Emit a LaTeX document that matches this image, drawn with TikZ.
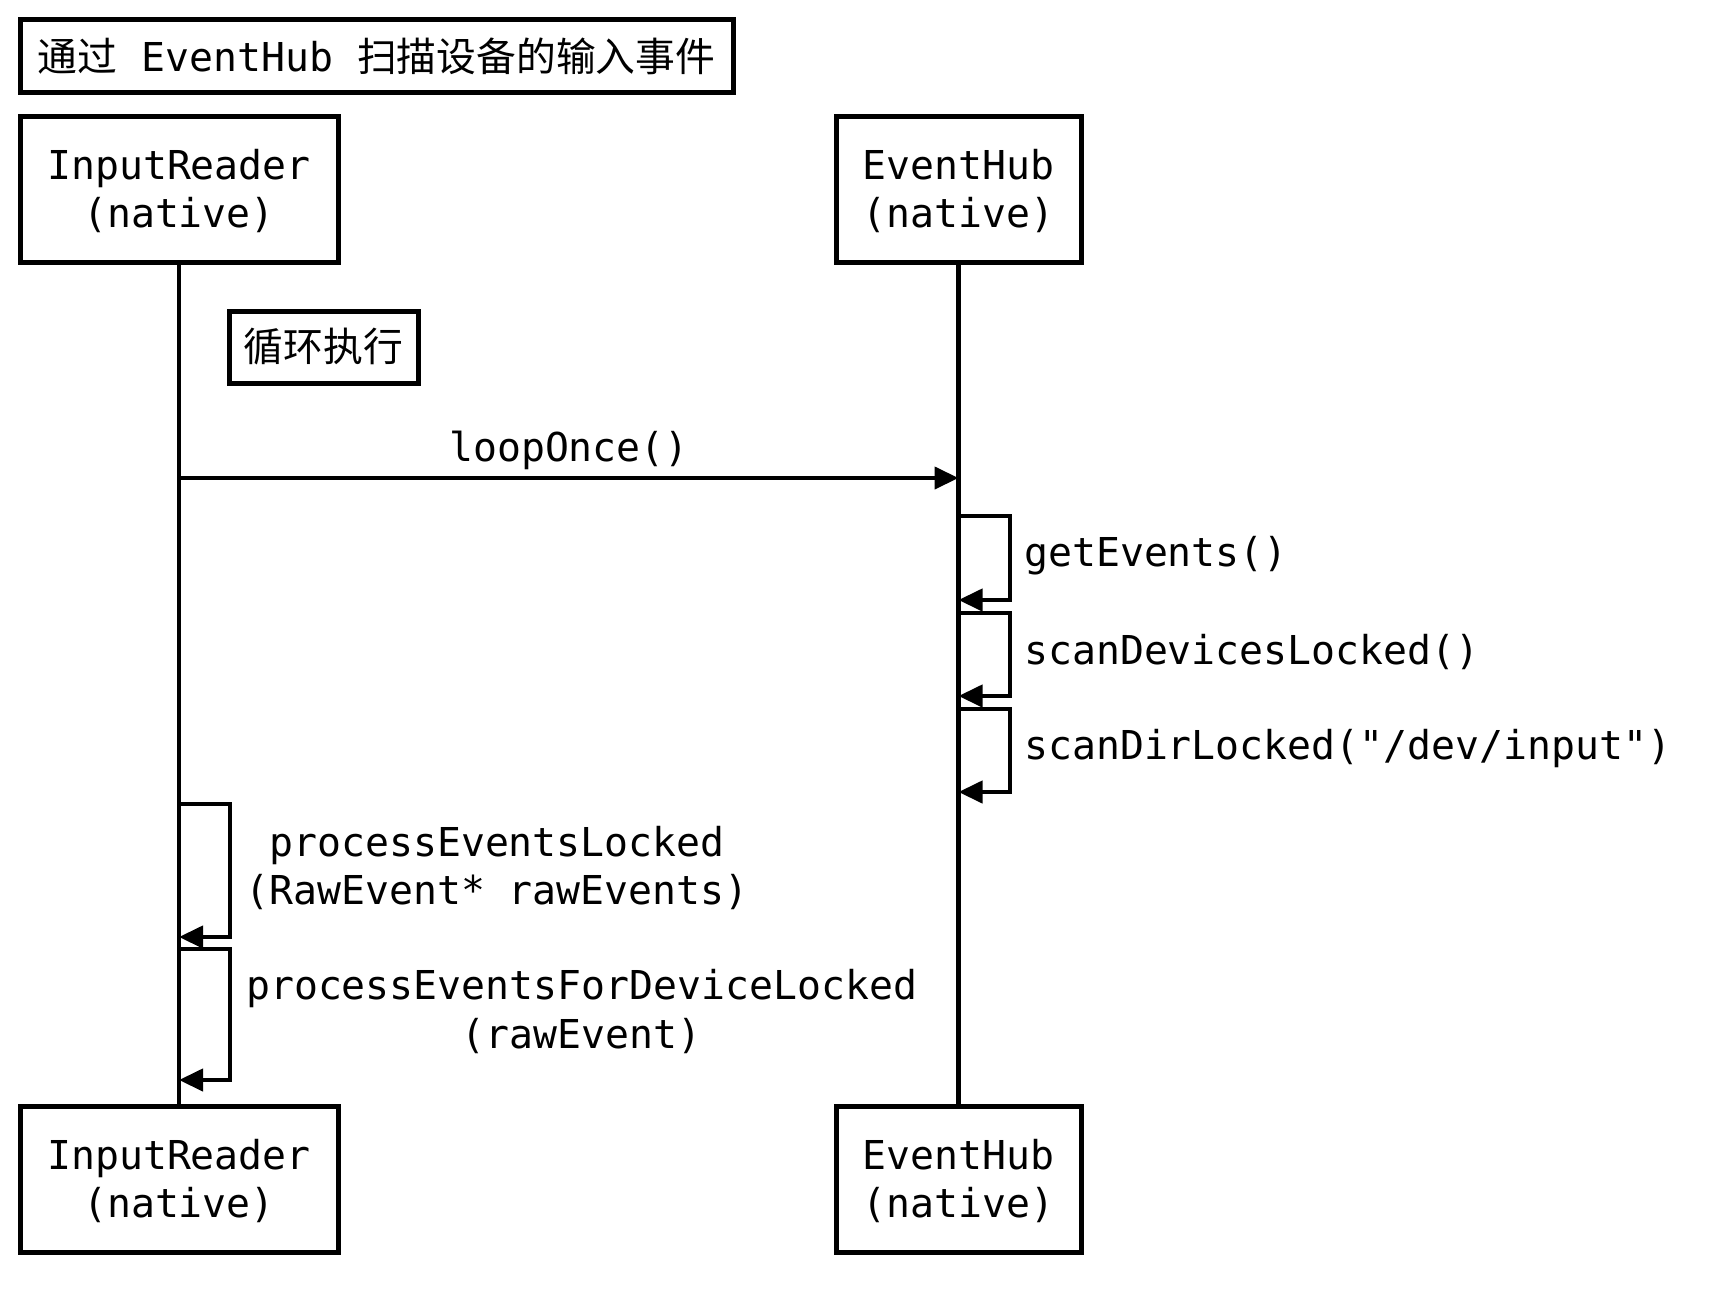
\documentclass[tikz,border=0pt]{standalone}
\usepackage{fontspec}
\setmainfont{DejaVu Sans Mono}
\setmonofont{DejaVu Sans Mono}
\newfontfamily\cjk{Noto Sans CJK SC}
\usetikzlibrary{arrows.meta}
\begin{document}
\begin{tikzpicture}[x=1pt,y=-1pt,
  every node/.style={font=\ttfamily\fontsize{39.8}{48.5}\selectfont, inner sep=0pt},
  actor/.style={draw, line width=5pt, align=center, minimum height=146pt},
  framebox/.style={draw, line width=5pt, align=center},
  life/.style={line width=4.2pt},
  msg/.style={line width=4.2pt, -{Triangle[length=24pt,width=22pt]}},
  lbl/.style={align=center}
]
\useasboundingbox[fill=white] (0,0) rectangle (1732,1298);

% title
\node[framebox, minimum width=713pt, minimum height=73pt] (title) at (376.5,56)
  {{\cjk 通过} EventHub {\cjk 扫描设备的输入事件}};

% actors
\node[actor, minimum width=318pt] (irT) at (179,189) {\strut InputReader\\(native)};
\node[actor, minimum width=245pt] (ehT) at (958.5,189) {\strut EventHub\\(native)};
\node[actor, minimum width=318pt] (irB) at (179,1179) {\strut InputReader\\(native)};
\node[actor, minimum width=245pt] (ehB) at (958.5,1179) {\strut EventHub\\(native)};

% lifelines
\draw[life] (irT.south) -- (irB.north);
\draw[life] (ehT.south) -- (ehB.north);

% loop note
\node[framebox, minimum width=189pt, minimum height=72pt] (loop) at (323.5,347) {{\cjk 循环执行}};

% loopOnce
\coordinate (lo1) at (179,478);
\coordinate (lo2) at (958.5,478);
\draw[msg] (lo1) -- (lo2);
\node[lbl] (loLbl) at (569,450) {loopOnce()};

% EventHub self calls
\coordinate (g1) at (958.5,516);
\coordinate (g2) at (958.5,600);
\draw[msg] (g1) -- (1010,516) -- (1010,600) -- (g2);
\node[anchor=west] (gLbl) at (1024,556) {getEvents()};

\coordinate (s1) at (958.5,613);
\coordinate (s2) at (958.5,696);
\draw[msg] (s1) -- (1010,613) -- (1010,696) -- (s2);
\node[anchor=west] (sLbl) at (1024,652) {scanDevicesLocked()};

\coordinate (d1) at (958.5,709);
\coordinate (d2) at (958.5,792);
\draw[msg] (d1) -- (1010,709) -- (1010,792) -- (d2);
\node[anchor=west] (dLbl) at (1024,748.5) {scanDirLocked("/dev/input")};

% InputReader self calls
\coordinate (p1) at (179,804);
\coordinate (p2) at (179,937);
\draw[msg] (p1) -- (230,804) -- (230,937) -- (p2);
\node[lbl] (pLbl) at (497,868) {processEventsLocked\\(RawEvent* rawEvents)};

\coordinate (q1) at (179,949);
\coordinate (q2) at (179,1080);
\draw[msg] (q1) -- (230,949) -- (230,1080) -- (q2);
\node[lbl] (qLbl) at (581.6,1011.5) {processEventsForDeviceLocked\\(rawEvent)};
\end{tikzpicture}
\end{document}
